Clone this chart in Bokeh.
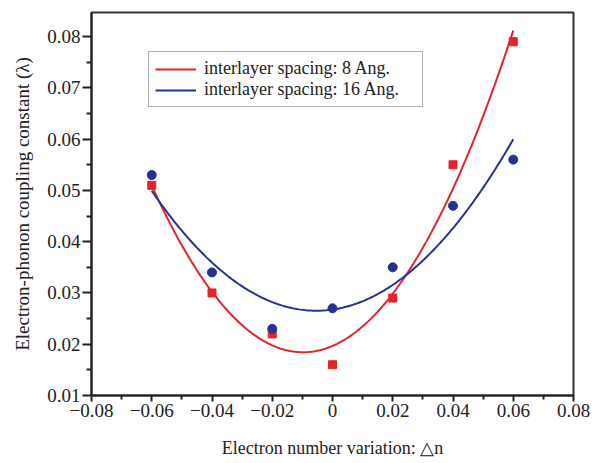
import numpy as np
from bokeh.plotting import figure
from bokeh.models import FixedTicker, Range1d, Legend, LegendItem
from bokeh.embed import file_html
from bokeh.resources import INLINE

# Data
delta_n = [-0.06, -0.04, -0.02, 0.0, 0.02, 0.04, 0.06]
lam_8ang = [0.051, 0.030, 0.022, 0.016, 0.029, 0.055, 0.079]
lam_16ang = [0.053, 0.034, 0.023, 0.027, 0.035, 0.047, 0.056]

x_ticks = [-0.08, -0.06, -0.04, -0.02, 0.0, 0.02, 0.04, 0.06, 0.08]
x_tick_labels = ["\u22120.08", "\u22120.06", "\u22120.04", "\u22120.02", "0", "0.02", "0.04", "0.06", "0.08"]
x_minor = [-0.07, -0.05, -0.03, -0.01, 0.01, 0.03, 0.05, 0.07]
y_ticks = [0.01, 0.02, 0.03, 0.04, 0.05, 0.06, 0.07, 0.08]
y_tick_labels = ["0.01", "0.02", "0.03", "0.04", "0.05", "0.06", "0.07", "0.08"]
y_minor = [0.015, 0.025, 0.035, 0.045, 0.055, 0.065, 0.075, 0.085]

series_names = ["interlayer spacing: 8 Ang.", "interlayer spacing: 16 Ang."]

RED = "#e5232b"
BLUE = "#27328f"
FONT = "Liberation Serif"

p = figure(width=592, height=460, output_backend="svg", toolbar_location=None,
           x_range=Range1d(-0.08, 0.08), y_range=Range1d(0.01, 0.0847),
           min_border_left=91, min_border_right=19, min_border_top=12, min_border_bottom=64)

p.background_fill_color = "white"
p.border_fill_color = "white"
p.outline_line_color = "#333333"
p.outline_line_width = 2
p.xgrid.visible = False
p.ygrid.visible = False

# fitted curves (quadratic least squares fit of the data)
xf = np.linspace(min(delta_n), max(delta_n), 200)
c8 = np.polyfit(delta_n, lam_8ang, 2)
c16 = np.polyfit(delta_n, lam_16ang, 2)
r1 = p.line(xf, np.polyval(c8, xf), line_color=RED, line_width=2)
r2 = p.line(xf, np.polyval(c16, xf), line_color=BLUE, line_width=2)

p.scatter(delta_n, lam_8ang, marker="square", size=8, fill_color=RED, line_color=RED)
p.scatter(delta_n, lam_16ang, marker="circle", size=9, fill_color=BLUE, line_color=BLUE)

legend = Legend(items=[LegendItem(label=series_names[0], renderers=[r1]),
                       LegendItem(label=series_names[1], renderers=[r2])],
                location=(57, 288))
legend.label_text_font = FONT
legend.label_text_font_size = "18px"
legend.label_text_color = "#222222"
legend.border_line_color = "#666666"
legend.border_line_width = 1.5
legend.background_fill_color = "white"
legend.background_fill_alpha = 1
legend.padding = 6
legend.spacing = 0
legend.glyph_width = 41
legend.glyph_height = 20
legend.label_height = 20
legend.label_width = 212
legend.label_standoff = 8
legend.margin = 0
p.add_layout(legend)

for ax in (p.xaxis[0], p.yaxis[0]):
    ax.axis_line_color = "#222222"
    ax.axis_line_width = 2
    ax.major_tick_line_color = "#222222"
    ax.minor_tick_line_color = "#222222"
    ax.major_tick_line_width = 2
    ax.minor_tick_line_width = 2
    ax.major_tick_in = 0
    ax.minor_tick_in = 0
    ax.major_label_text_font = FONT
    ax.major_label_text_font_size = "19px"
    ax.major_label_text_color = "#222222"
    ax.axis_label_text_font = FONT
    ax.axis_label_text_font_style = "normal"
    ax.axis_label_text_color = "#222222"

p.xaxis[0].ticker = FixedTicker(ticks=x_ticks, minor_ticks=x_minor)
p.xaxis[0].major_label_overrides = dict(zip(x_ticks, x_tick_labels))
p.xaxis[0].major_tick_out = 6
p.xaxis[0].minor_tick_out = 4
p.xaxis[0].major_label_standoff = 2
p.xaxis[0].axis_label = "Electron number variation: \u25b3n"
p.xaxis[0].axis_label_text_font_size = "18px"
p.xaxis[0].axis_label_standoff = 18

p.yaxis[0].ticker = FixedTicker(ticks=y_ticks, minor_ticks=y_minor)
p.yaxis[0].major_label_overrides = dict(zip(y_ticks, y_tick_labels))
p.yaxis[0].major_tick_out = 9
p.yaxis[0].minor_tick_out = 5
p.yaxis[0].major_label_standoff = 2
p.yaxis[0].axis_label = "Electron-phonon coupling constant (\u03bb)"
p.yaxis[0].axis_label_text_font_size = "19px"
p.yaxis[0].axis_label_standoff = 11

open("out.html", "w").write(file_html(p, INLINE))
